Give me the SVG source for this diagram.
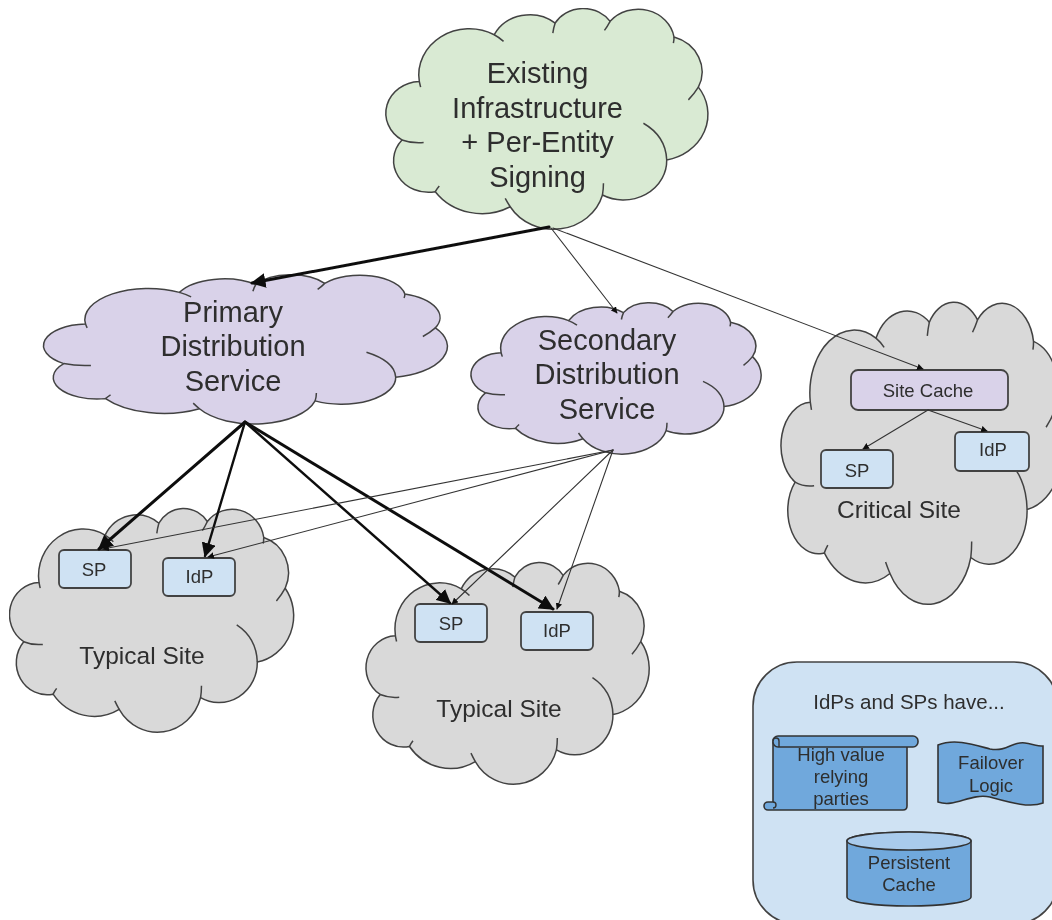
<svg xmlns="http://www.w3.org/2000/svg" width="1052" height="920" viewBox="0 0 1052 920">
<style>
text{font-family:"Liberation Sans",Arial,sans-serif;fill:#2e2e2e;text-anchor:middle}
.big{font-size:29px}.mid{font-size:24.5px}.sm{font-size:18.5px}.leg{font-size:20.5px}
.ln{fill:none;stroke:#111;stroke-linecap:round}
.thin{stroke:#333}
.green{fill:#d9ead3}.purple{fill:#d9d2e9}.gray{fill:#d9d9d9}
.shape{stroke:#434343;stroke-width:1.5;stroke-linejoin:round}
.box{fill:#cfe2f3;stroke:#434343;stroke-width:1.8}
.pbox{fill:#d9d2e9;stroke:#434343;stroke-width:1.8}
.blue{fill:#6fa8dc;stroke:#333;stroke-width:1.6}
.c1{stroke-width:1.1}.c2{stroke-width:2.4}.c3{stroke-width:3}
</style>
<defs>
<filter id="soft" x="0" y="0" width="100%" height="100%"><feGaussianBlur stdDeviation="0.6"/></filter>
<marker id="ah" viewBox="0 0 10 10" refX="9" refY="5" markerWidth="5" markerHeight="5" orient="auto" markerUnits="strokeWidth"><path d="M0,0L10,5L0,10Z" fill="#111"/></marker>
<marker id="ah2" viewBox="0 0 10 10" refX="9" refY="5" markerWidth="6" markerHeight="6" orient="auto" markerUnits="strokeWidth"><path d="M0,0L10,5L0,10Z" fill="#111"/></marker>
<marker id="ah1" viewBox="0 0 10 10" refX="9" refY="5" markerWidth="6" markerHeight="6" orient="auto" markerUnits="strokeWidth"><path d="M0,0L10,5L0,10Z" fill="#111"/></marker>
<g id="cloud">
<path vector-effect="non-scaling-stroke" d="M97,217A152,138 0 0 1 322,77A120,109 0 0 1 505,42A98,89 0 0 1 670,37A109,99 0 0 1 862,84A120,109 0 0 1 935,234A152,139 0 0 1 840,452A130,118 0 0 1 647,557A152,139 0 0 1 370,592A173,159 0 0 1 145,547A105,95 0 0 1 45,392A105,95 0 0 1 97,217Z"/>
<path vector-effect="non-scaling-stroke" fill="none" d="M97,217Q99,226 101,234M322,77Q337,85 350,97M505,42Q500,57 498,72M670,37Q662,52 653,64M862,84Q862,94 860,102M935,234Q922,255 905,272M840,452C838,400 810,365 770,342M647,557Q650,540 650,522M370,592Q362,580 355,567M145,547Q150,538 157,530M45,392Q75,403 110,400"/>
</g>
</defs>
<g filter="url(#soft)">
<g id="node-existing"><use href="#cloud" class="green shape" transform="translate(387,9) scale(.333,.334)"/>
<text class="big" x="537.500" y="83">Existing</text><text class="big" x="537.500" y="118">Infrastructure</text><text class="big" x="537.500" y="152">+ Per-Entity</text><text class="big" x="537.500" y="187">Signing</text></g>
<g id="node-primary"><use href="#cloud" class="purple shape" transform="translate(45,275) scale(.4175,.226)"/>
<text class="big" x="233" y="322">Primary</text><text class="big" x="233" y="356">Distribution</text><text class="big" x="233" y="391">Service</text></g>
<g id="node-secondary"><use href="#cloud" class="purple shape" transform="translate(472,303) scale(.3,.2292)"/>
<text class="big" x="607" y="350">Secondary</text><text class="big" x="607" y="384">Distribution</text><text class="big" x="607" y="419">Service</text></g>
<g id="node-site1"><use href="#cloud" class="gray shape" transform="translate(10.500,509) scale(.2938,.3385)"/>
<text class="mid" x="142" y="664">Typical Site</text></g>
<g id="node-site2"><use href="#cloud" class="gray shape" transform="translate(367,563) scale(.2928,.3354)"/>
<text class="mid" x="499" y="717">Typical Site</text></g>
<g id="node-critical"><use href="#cloud" class="gray shape" transform="translate(782,303) scale(.2918,.4569)"/>
<text class="mid" x="899" y="518">Critical Site</text></g>
<g id="node-sp1"><rect class="box" x="59" y="550" width="72" height="38" rx="5"/><text class="sm" x="94" y="576">SP</text></g>
<g id="node-idp1"><rect class="box" x="163" y="558" width="72" height="38" rx="5"/><text class="sm" x="199.500" y="583">IdP</text></g>
<g id="node-sp2"><rect class="box" x="415" y="604" width="72" height="38" rx="5"/><text class="sm" x="451" y="630">SP</text></g>
<g id="node-idp2"><rect class="box" x="521" y="612" width="72" height="38" rx="5"/><text class="sm" x="557" y="637">IdP</text></g>
<g id="node-cache"><rect class="pbox" x="851" y="370" width="157" height="40" rx="7"/><text class="sm" x="928" y="397">Site Cache</text></g>
<g id="node-sp3"><rect class="box" x="821" y="450" width="72" height="38" rx="5"/><text class="sm" x="857" y="477">SP</text></g>
<g id="node-idp3"><rect class="box" x="955" y="432" width="74" height="39" rx="5"/><text class="sm" x="993" y="456">IdP</text></g>
<g id="connectors">
<path class="ln c3" marker-end="url(#ah)" d="M549,227L252,283"/>
<path class="ln thin c1" marker-end="url(#ah1)" d="M551,228L617,313"/>
<path class="ln thin c1" marker-end="url(#ah1)" d="M553,228L923,369"/>
<path class="ln c3" marker-end="url(#ah)" d="M245,422L99,549"/>
<path class="ln c2" marker-end="url(#ah2)" d="M245,422L205,556"/>
<path class="ln c2" marker-end="url(#ah2)" d="M245,422L450,603"/>
<path class="ln c3" marker-end="url(#ah)" d="M245,422L553,609"/>
<path class="ln thin c1" marker-end="url(#ah1)" d="M613,450L103,549"/>
<path class="ln thin c1" marker-end="url(#ah1)" d="M613,450L208,557"/>
<path class="ln thin c1" marker-end="url(#ah1)" d="M613,450L452,604"/>
<path class="ln thin c1" marker-end="url(#ah1)" d="M613,450L557,609"/>
<path class="ln thin c1" marker-end="url(#ah1)" d="M928,410L863,449"/>
<path class="ln thin c1" marker-end="url(#ah1)" d="M928,410L987,431"/>
</g>
<g id="node-legend">
<rect x="753" y="662" width="305" height="262" rx="44" fill="#cfe2f3" stroke="#434343" stroke-width="1.6"/>
<text class="leg" x="909" y="709">IdPs and SPs have...</text>
<path class="blue" d="M773,742H907V806Q907,810 903,810H768A4,4 0 0 1 768,802H773Z"/>
<rect class="blue" x="773" y="736" width="145" height="11" rx="5"/>
<path fill="none" stroke="#333" stroke-width="1.4" d="M773,741A3,3 0 0 1 779,741V747M773,802A3,3 0 0 1 773,808"/>
<text class="sm" x="841" y="761">High value</text><text class="sm" x="841" y="783">relying</text><text class="sm" x="841" y="805">parties</text>
<path class="blue" d="M938,745C955,738 975,745 990,749C1008,752 1012,741 1025,743C1032,744 1037,746 1043,746V803C1030,808 1012,803 990,797C970,793 955,808 938,802Z"/>
<text class="sm" x="991" y="769">Failover</text><text class="sm" x="991" y="792">Logic</text>
<path class="blue" d="M847,841A62,9 0 0 1 971,841V897A62,9 0 0 1 847,897Z"/>
<ellipse cx="909" cy="841" rx="62" ry="9" fill="#a9cbec" stroke="#333" stroke-width="1.6"/>
<text class="sm" x="909" y="869">Persistent</text><text class="sm" x="909" y="891">Cache</text>
</g>
</g>
</svg>
